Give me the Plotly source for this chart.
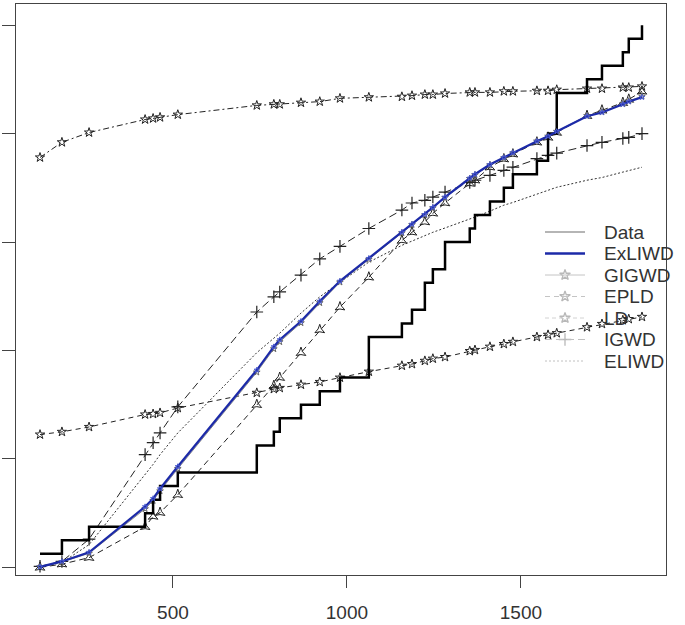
import plotly.graph_objects as go

# Observed data (n = 40, sorted, with ties)
data_x = [118, 181, 259, 420, 443, 463, 514, 741, 741, 790, 807, 868, 922, 980,
          1063, 1063, 1063, 1158, 1187, 1224, 1224, 1247, 1282, 1282, 1353, 1368,
          1411, 1451, 1477, 1546, 1578, 1578, 1603, 1603, 1603, 1690, 1733, 1793,
          1810, 1848]

# Distinct observation values where the fitted CDFs are evaluated
x_fit = [118, 181, 259, 420, 443, 463, 514, 741, 790, 807, 868, 922, 980, 1063,
         1158, 1187, 1224, 1247, 1282, 1353, 1368, 1411, 1451, 1477, 1546, 1578,
         1603, 1690, 1733, 1793, 1810, 1848]

cdf_exliwd = [0.001, 0.011, 0.028, 0.112, 0.127, 0.145, 0.186, 0.364, 0.407, 0.420,
              0.454, 0.491, 0.528, 0.570, 0.618, 0.633, 0.651, 0.664, 0.683, 0.718,
              0.725, 0.743, 0.756, 0.765, 0.786, 0.795, 0.804, 0.832, 0.839, 0.854,
              0.859, 0.867]
cdf_gigwd = [0.001, 0.010, 0.026, 0.108, 0.123, 0.141, 0.182, 0.360, 0.403, 0.416,
             0.451, 0.488, 0.526, 0.568, 0.617, 0.632, 0.650, 0.663, 0.682, 0.717,
             0.724, 0.742, 0.755, 0.764, 0.786, 0.795, 0.804, 0.833, 0.840, 0.855,
             0.860, 0.869]
cdf_epld = [0.000, 0.006, 0.018, 0.075, 0.094, 0.101, 0.134, 0.300, 0.335, 0.350,
            0.396, 0.438, 0.480, 0.535, 0.603, 0.618, 0.637, 0.653, 0.672, 0.708,
            0.714, 0.738, 0.753, 0.762, 0.784, 0.793, 0.802, 0.833, 0.843, 0.857,
            0.863, 0.878]
cdf_ld = [0.756, 0.784, 0.802, 0.826, 0.828, 0.830, 0.835, 0.852, 0.854, 0.854,
          0.857, 0.859, 0.865, 0.867, 0.868, 0.870, 0.872, 0.872, 0.874, 0.876,
          0.876, 0.876, 0.878, 0.878, 0.879, 0.879, 0.881, 0.883, 0.883, 0.885,
          0.885, 0.887]
cdf_low = [0.245, 0.250, 0.259, 0.282, 0.283, 0.285, 0.294, 0.322, 0.329, 0.331,
           0.337, 0.342, 0.350, 0.361, 0.372, 0.375, 0.381, 0.385, 0.388, 0.399,
           0.401, 0.407, 0.412, 0.416, 0.425, 0.429, 0.432, 0.443, 0.449, 0.456,
           0.458, 0.462]
cdf_igwd = [0.002, 0.011, 0.052, 0.208, 0.230, 0.248, 0.296, 0.471, 0.499, 0.508,
            0.539, 0.569, 0.592, 0.625, 0.659, 0.672, 0.677, 0.683, 0.692, 0.710,
            0.714, 0.723, 0.732, 0.738, 0.754, 0.760, 0.764, 0.778, 0.784, 0.791,
            0.793, 0.800]
cdf_eliwd = [0.000, 0.009, 0.042, 0.171, 0.190, 0.208, 0.248, 0.396, 0.423, 0.432,
             0.469, 0.499, 0.526, 0.563, 0.594, 0.602, 0.611, 0.618, 0.626, 0.642,
             0.646, 0.657, 0.668, 0.673, 0.688, 0.695, 0.701, 0.714, 0.719, 0.729,
             0.732, 0.738]

legend_names = ["Data", "ExLIWD", "GIGWD", "EPLD", "LD", "IGWD", "ELIWD"]
x_ticks = [500, 1000, 1500]
y_ticks = [0, 0.2, 0.4, 0.6, 0.8, 1.0]

n = len(data_x)
ecdf_y = [(i + 1) / n for i in range(n)]

BLUE = "#1c2aa8"
W, H = 685, 625
ML, MR, MT, MB = 16, 19, 4, 50

fig = go.Figure()

fig.add_trace(go.Scatter(x=x_fit, y=cdf_low, mode="lines+markers", name="curve",
                         line=dict(color="#222", width=1, dash="5px,4px"),
                         marker=dict(symbol="star-open", size=7, color="#222",
                                     line=dict(width=1))))
fig.add_trace(go.Scatter(x=x_fit, y=cdf_ld, mode="lines+markers", name="LD",
                         line=dict(color="#222", width=1, dash="6px,3px,2px,3px"),
                         marker=dict(symbol="star-open", size=7, color="#222",
                                     line=dict(width=1))))
fig.add_trace(go.Scatter(x=x_fit, y=cdf_eliwd, mode="lines", name="ELIWD",
                         line=dict(color="#333", width=1, dash="2px,2px")))
fig.add_trace(go.Scatter(x=x_fit, y=cdf_igwd, mode="lines+markers", name="IGWD",
                         line=dict(color="#222", width=1, dash="8px,4px"),
                         marker=dict(symbol="cross-thin-open", size=9, color="#222",
                                     line=dict(width=1.2))))
fig.add_trace(go.Scatter(x=x_fit, y=cdf_epld, mode="lines+markers", name="EPLD",
                         line=dict(color="#222", width=1, dash="6px,4px"),
                         marker=dict(symbol="star-triangle-up-open", size=7, color="#222",
                                     line=dict(width=1))))
fig.add_trace(go.Scatter(x=x_fit, y=cdf_gigwd, mode="lines+markers", name="GIGWD",
                         line=dict(color="#888", width=1),
                         marker=dict(symbol="star-open", size=5, color="#666",
                                     line=dict(width=1))))
fig.add_trace(go.Scatter(x=data_x, y=ecdf_y, mode="lines", line_shape="hv", name="Data",
                         line=dict(color="black", width=2.5)))
fig.add_trace(go.Scatter(x=x_fit, y=cdf_exliwd, mode="lines+markers", name="ExLIWD",
                         line=dict(color=BLUE, width=2.2),
                         marker=dict(symbol="star-open", size=4, color="#4a5ad0",
                                     line=dict(width=1))))

# ---- hand-drawn legend on a pixel-based overlay axis ----
leg_rows = [232, 253.5, 275, 296.5, 318, 339.5, 361]
leg_x0, leg_x1, leg_text_x = 545, 585, 602
leg_line = [
    dict(color="#b5b5b5", width=2, dash="solid"),
    dict(color=BLUE, width=2.5, dash="solid"),
    dict(color="#c4c4c4", width=1, dash="solid"),
    dict(color="#c4c4c4", width=1, dash="5px,4px"),
    dict(color="#d2d2d2", width=1, dash="4px,3px"),
    dict(color="#c0c0c0", width=1, dash="7px,4px"),
    dict(color="#c0c0c0", width=1, dash="2px,2px"),
]
leg_marker = [None, None, "star-open", "star-open", "star-open", "cross-thin-open", None]

shapes = []
annotations = []
for name, yy, ln, mk in zip(legend_names, leg_rows, leg_line, leg_marker):
    shapes.append(dict(type="line", xref="x2", yref="y2", x0=leg_x0, x1=leg_x1,
                       y0=yy, y1=yy, line=ln, layer="above"))
    annotations.append(dict(xref="x2", yref="y2", x=leg_text_x, y=yy, text=name,
                            showarrow=False, xanchor="left", yanchor="middle",
                            font=dict(size=19, color="#333")))
    if mk:
        fig.add_trace(go.Scatter(x=[(leg_x0 + leg_x1) / 2], y=[yy], xaxis="x2", yaxis="y2",
                                 mode="markers", hoverinfo="skip", showlegend=False,
                                 marker=dict(symbol=mk, size=8 if mk != "cross-thin-open" else 9,
                                             color="#b8b8b8",
                                             line=dict(width=1.3, color="#b8b8b8"))))

axis_common = dict(showline=True, mirror=True, linecolor="#444", linewidth=1.3,
                   ticks="outside", tickcolor="#444", tickwidth=1.3,
                   showgrid=False, zeroline=False, automargin=False)

fig.update_layout(
    width=W, height=H,
    margin=dict(l=ML, r=MR, t=MT, b=MB),
    paper_bgcolor="white", plot_bgcolor="white",
    font=dict(family="Liberation Sans, Arial, sans-serif", color="#333"),
    showlegend=False,
    xaxis=dict(range=[49, 1917], tickvals=x_ticks, ticklen=12, ticklabelstandoff=8,
               tickfont=dict(size=19, color="#333"), **axis_common),
    yaxis=dict(range=[-0.014, 1.039], tickvals=y_ticks, ticklen=13,
               showticklabels=False, **axis_common),
    xaxis2=dict(overlaying="x", range=[ML, W - MR], visible=False, fixedrange=True),
    yaxis2=dict(overlaying="y", range=[H - MB, MT], visible=False, fixedrange=True),
    shapes=shapes,
    annotations=annotations,
)

fig.write_html("out.html", config={"displayModeBar": False},
               post_script="document.body.style.margin='0px';document.body.style.padding='0px';")
